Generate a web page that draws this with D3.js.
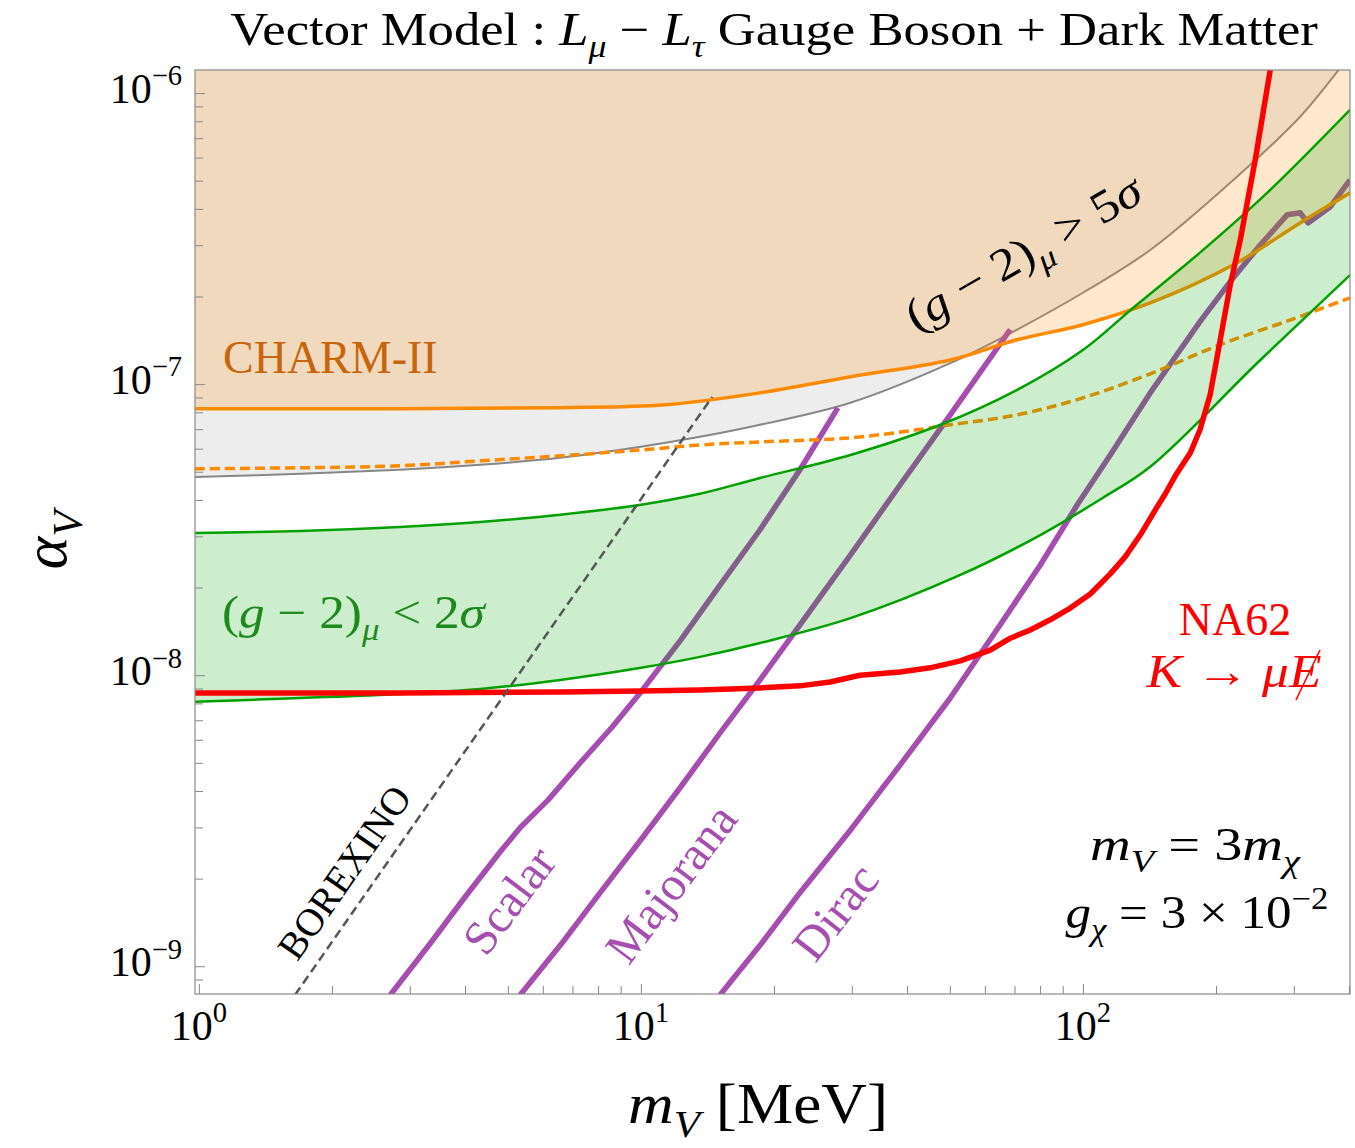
<!DOCTYPE html>
<html>
<head>
<meta charset="utf-8">
<script src="https://cdn.jsdelivr.net/npm/d3@7"></script>
<style>
  body { margin: 0; background: #fff; }
  text { font-family: "Liberation Serif", "DejaVu Serif", serif; }
</style>
</head>
<body>
<div id="chart"></div>
<script>
// ---------------------------------------------------------------------------
// Data: [m_V in MeV, alpha_V]
const charmII = [[0.98, 8.23e-8], [2.85, 8.23e-8], [6.57, 8.3e-8], [11.35, 8.49e-8], [18.6, 9.33e-8],
  [29.8, 1.06e-7], [50.1, 1.21e-7], [71, 1.42e-7], [100, 1.60e-7], [142, 1.90e-7], [219, 2.57e-7],
  [310, 3.58e-7], [402, 4.54e-7]];

const charmIIdashed = [[0.98, 5.12e-8], [1.70, 5.16e-8], [2.85, 5.24e-8], [4.33, 5.45e-8], [6.57, 5.67e-8],
  [10, 5.94e-8], [13.6, 6.18e-8], [18.6, 6.33e-8], [29.8, 6.54e-8], [42.2, 6.97e-8], [50.1, 7.25e-8],
  [71, 7.84e-8], [100, 8.97e-8], [142, 1.085e-7], [204, 1.365e-7], [294, 1.66e-7], [402, 1.98e-7]];

const gm2Excluded = [[0.98, 4.80e-8], [1.70, 4.92e-8], [2.85, 5.08e-8], [4.33, 5.28e-8], [6.57, 5.58e-8],
  [10, 6.09e-8], [13.6, 6.59e-8], [18.6, 7.25e-8], [29.8, 8.63e-8], [50.1, 1.18e-7], [71, 1.54e-7],
  [100, 2.06e-7], [142, 2.89e-7], [219, 5.03e-7], [310, 8.29e-7], [382, 1.22e-6], [402, 1.35e-6]];

const gm2Upper = [[0.98, 3.08e-8], [1.70, 3.13e-8], [2.85, 3.23e-8], [4.33, 3.36e-8], [6.57, 3.56e-8],
  [10, 3.85e-8], [13.6, 4.20e-8], [18.6, 4.76e-8], [29.8, 5.71e-8], [47.6, 7.25e-8], [71, 9.56e-8],
  [100, 1.31e-7], [130, 1.83e-7], [184, 2.83e-7], [261, 4.54e-7], [402, 8.76e-7]];

const gm2Lower = [[0.98, 8.10e-9], [1.70, 8.35e-9], [2.85, 8.62e-9], [4.33, 8.97e-9], [6.57, 9.63e-9],
  [10, 1.06e-8], [13.6, 1.156e-8], [18.6, 1.29e-8], [29.8, 1.57e-8], [52.8, 2.21e-8], [80.1, 3.03e-8],
  [111, 4.07e-8], [142, 5.20e-8], [252, 1.21e-7], [402, 2.37e-7]];

const na62 = [[0.98, 8.69e-9], [2.85, 8.69e-9], [6.57, 8.76e-9], [10, 8.83e-9], [13.6, 8.90e-9],
  [18.6, 9.04e-9], [22.9, 9.19e-9], [26.8, 9.48e-9], [31.3, 1.00e-8], [38.6, 1.026e-8], [45.1, 1.06e-8],
  [52.8, 1.12e-8], [61.7, 1.22e-8], [68.5, 1.34e-8], [76, 1.43e-8], [84.3, 1.55e-8], [93.6, 1.70e-8],
  [103.9, 1.90e-8], [115.3, 2.23e-8], [124.6, 2.55e-8], [134.8, 3.03e-8], [145.8, 3.70e-8],
  [153.6, 4.20e-8], [161.8, 4.84e-8], [175, 5.81e-8], [184, 6.97e-8], [194, 9.19e-8], [204.5, 1.42e-7],
  [215.4, 2.19e-7], [227, 3.13e-7], [245.4, 5.90e-7], [265.3, 1.2e-6]];

const scalar = [[2.71, 7.97e-10], [3.34, 1.20e-9], [4.00, 1.73e-9], [4.80, 2.47e-9], [5.33, 2.99e-9],
  [6.17, 3.73e-9], [7.29, 5.00e-9], [8.61, 6.64e-9], [10, 8.76e-9], [12.3, 1.32e-8], [15.1, 2.04e-8],
  [18.6, 3.16e-8], [22.9, 5.08e-8], [27.9, 8.29e-8]];

const majorana = [[5.33, 7.97e-10], [6.57, 1.18e-9], [8.09, 1.79e-9], [10, 2.72e-9], [12.3, 4.13e-9],
  [15.1, 6.33e-9], [18.6, 9.63e-9], [22.9, 1.49e-8], [29.8, 2.59e-8], [38.6, 4.51e-8], [50.1, 7.84e-8],
  [68.5, 1.54e-7]];

const dirac = [[15.1, 7.97e-10], [18.6, 1.18e-9], [22.9, 1.79e-9], [29.8, 2.94e-9], [38.6, 4.92e-9],
  [50.1, 8.35e-9], [65, 1.49e-8], [80.1, 2.39e-8], [97.1, 3.85e-8], [115.3, 5.71e-8], [142, 9.33e-8],
  [160, 1.21e-7], [184, 1.64e-7], [215.4, 2.25e-7], [252, 3.01e-7], [290, 3.82e-7], [310, 3.88e-7],
  [323, 3.58e-7], [363, 4.07e-7], [402, 5.03e-7]];

const borexino = [[1.65, 7.97e-10], [14.5, 9.04e-8]];

// Tick values
const xMajor = [1, 10, 100],
      xMinor = [2, 3, 4, 5, 6, 7, 8, 9, 20, 30, 40, 50, 60, 70, 80, 90, 200, 300, 400];
const yMajor = [1e-9, 1e-8, 1e-7, 1e-6],
      yMinor = [9e-10, 2e-9, 3e-9, 4e-9, 5e-9, 6e-9, 7e-9, 8e-9, 9e-9, 2e-8, 3e-8, 4e-8, 5e-8, 6e-8,
                7e-8, 8e-8, 9e-8, 2e-7, 3e-7, 4e-7, 5e-7, 6e-7, 7e-7, 8e-7, 9e-7];

// ---------------------------------------------------------------------------
// Layout
const width = 1355,
      height = 1148;
const plotL = 195, plotR = 1350, plotT = 70, plotB = 994;

const x = d3.scaleLog()
    .domain([0.98, 402])
    .range([plotL, plotR]);

const y = d3.scaleLog()
    .domain([8.03e-10, 1.2e-6])
    .range([plotB, plotT]);

const purple = "#a64db0";

const svg = d3.select("#chart")
  .append("svg")
    .attr("width", width)
    .attr("height", height);

svg.append("clipPath")
    .attr("id", "plot-clip")
  .append("rect")
    .attr("x", plotL)
    .attr("y", plotT)
    .attr("width", plotR - plotL)
    .attr("height", plotB - plotT);

const plot = svg.append("g")
    .attr("clip-path", "url(#plot-clip)");

const smooth = d3.line()
    .x(d => x(d[0]))
    .y(d => y(d[1]))
    .curve(d3.curveCatmullRom.alpha(0.5));

const straight = d3.line()
    .x(d => x(d[0]))
    .y(d => y(d[1]));

// region above a curve, closed along the top of the frame
function above(data) {
  return smooth(data) + `L${plotR + 10},${plotT - 10}L${plotL - 10},${plotT - 10}Z`;
}

// band between two curves
function band(upper, lower) {
  const rev = lower.slice().reverse();
  return smooth(upper) + "L" + smooth(rev).slice(1) + "Z";
}

///////////////////////////////////////////////////////////////////////////////
// (g-2) > 5 sigma region and boundary
plot.append("path")
    .attr("d", above(gm2Excluded))
    .attr("fill", "#ededed");

plot.append("path")
    .attr("d", smooth(gm2Excluded))
    .attr("fill", "none")
    .attr("stroke", "#878787")
    .attr("stroke-width", 2);

// Relic density lines
[scalar, majorana, dirac].forEach(d => {
  plot.append("path")
      .attr("d", straight(d))
      .attr("fill", "none")
      .attr("stroke", purple)
      .attr("stroke-width", 5.5)
      .attr("stroke-linejoin", "round");
});

// CHARM-II region
plot.append("path")
    .attr("d", above(charmII))
    .attr("fill", "rgb(255,140,0)")
    .attr("fill-opacity", 0.2);

plot.append("path")
    .attr("d", smooth(charmII))
    .attr("fill", "none")
    .attr("stroke", "#ff8a00")
    .attr("stroke-width", 3.5);

plot.append("path")
    .attr("d", smooth(charmIIdashed))
    .attr("fill", "none")
    .attr("stroke", "#ff8a00")
    .attr("stroke-width", 3.5)
    .attr("stroke-dasharray", "10,5");

// (g-2) < 2 sigma band
plot.append("path")
    .attr("d", band(gm2Upper, gm2Lower))
    .attr("fill", "rgb(0,170,0)")
    .attr("fill-opacity", 0.2);

[gm2Upper, gm2Lower].forEach(d => {
  plot.append("path")
      .attr("d", smooth(d))
      .attr("fill", "none")
      .attr("stroke", "#00a000")
      .attr("stroke-width", 2.5);
});

// NA62
plot.append("path")
    .attr("d", straight(na62))
    .attr("fill", "none")
    .attr("stroke", "#ff0000")
    .attr("stroke-width", 5.5)
    .attr("stroke-linejoin", "round");

// BOREXINO
plot.append("path")
    .attr("d", straight(borexino))
    .attr("fill", "none")
    .attr("stroke", "#555")
    .attr("stroke-width", 2.5)
    .attr("stroke-dasharray", "9,5");

///////////////////////////////////////////////////////////////////////////////
// Axes (ticks inside the frame)
function tickAxis(axis, values, size, transform) {
  svg.append("g")
      .attr("transform", transform)
      .call(axis.tickValues(values).tickSize(-size).tickFormat(""))
      .call(g => g.select(".domain").remove())
      .call(g => g.selectAll("line").attr("stroke", "#888"));
}
tickAxis(d3.axisBottom(x), xMajor, 10, `translate(0,${plotB})`);
tickAxis(d3.axisBottom(x), xMinor, 8, `translate(0,${plotB})`);
tickAxis(d3.axisLeft(y), yMajor, 10, `translate(${plotL},0)`);
tickAxis(d3.axisLeft(y), yMinor, 8, `translate(${plotL},0)`);

svg.append("rect")
    .attr("x", plotL)
    .attr("y", plotT)
    .attr("width", plotR - plotL)
    .attr("height", plotB - plotT)
    .attr("fill", "none")
    .attr("stroke", "#8a8a8a")
    .attr("stroke-width", 1.2);

///////////////////////////////////////////////////////////////////////////////
// Rich text helper: parts are {t, i (italic), sub, sup}
function rich(sel, parts, size) {
  let shift = 0;
  parts.forEach(p => {
    const target = p.sub ? size * 0.25 : p.sup ? -size * 0.42 : 0;
    const ts = sel.append("tspan")
        .attr("dy", target - shift)
        .text(p.t);
    shift = target;
    if (p.sub || p.sup) ts.attr("font-size", size * 0.68);
    if (p.i) ts.attr("font-style", "italic");
  });
  return sel;
}

// opts: anchor, fill, rotate, w (stretch text horizontally to this width)
function label(px, py, parts, size, opts = {}) {
  const base = `translate(${px},${py})` + (opts.rotate ? ` rotate(${opts.rotate})` : "");
  const t = svg.append("text")
      .attr("transform", base)
      .attr("font-size", size)
      .attr("text-anchor", opts.anchor || "start")
      .attr("fill", opts.fill || "#000");
  rich(t, parts, size);
  if (opts.w) {
    const len = t.node().getComputedTextLength();
    if (len > 0) t.attr("transform", base + ` scale(${opts.w / len},1)`);
  }
  return t;
}

// Tick labels
xMajor.forEach((v, i) => {
  label(x(v), 1040, [{ t: "10" }, { t: String(i), sup: true }], 42, { anchor: "middle" });
});
yMajor.forEach((v, i) => {
  label(182, y(v) + 10, [{ t: "10" }, { t: "−" + (9 - i), sup: true }], 42, { anchor: "end" });
});

// Axis titles
label(758, 1123, [{ t: "m", i: true }, { t: "V", i: true, sub: true }, { t: " [MeV]" }], 56,
  { anchor: "middle", w: 260 });
label(66, 540, [{ t: "α", i: true }, { t: "V", i: true, sub: true }], 62,
  { anchor: "middle", rotate: -90 });

// Title
label(774, 45, [{ t: "Vector Model :  " }, { t: "L", i: true }, { t: "μ", i: true, sub: true },
  { t: " − " }, { t: "L", i: true }, { t: "τ", i: true, sub: true },
  { t: " Gauge Boson + Dark Matter" }], 46, { anchor: "middle", w: 1088 });

// Region labels
label(223, 373, [{ t: "CHARM-II" }], 46, { fill: "#c8640a" });
label(222, 628, [{ t: "(" }, { t: "g", i: true }, { t: " − 2)" }, { t: "μ", i: true, sub: true },
  { t: " < 2" }, { t: "σ", i: true }], 46, { fill: "#1e8a1e", w: 263 });
label(1031, 266, [{ t: "(" }, { t: "g", i: true }, { t: " − 2)" }, { t: "μ", i: true, sub: true },
  { t: " > 5" }, { t: "σ", i: true }], 46, { anchor: "middle", rotate: -30, w: 265 });

label(1235, 635, [{ t: "NA62" }], 46, { anchor: "middle", fill: "#ff0000" });
label(1234, 687, [{ t: "K", i: true }, { t: " → " }, { t: "μ", i: true }, { t: "E", i: true }], 46,
  { anchor: "middle", fill: "#ff0000", w: 175 });
svg.append("line")
    .attr("x1", 1296).attr("y1", 700)
    .attr("x2", 1320).attr("y2", 650)
    .attr("stroke", "#ff0000")
    .attr("stroke-width", 1.6);

label(1195, 860, [{ t: "m", i: true }, { t: "V", i: true, sub: true }, { t: " = 3" },
  { t: "m", i: true }, { t: "χ", i: true, sub: true }], 46, { anchor: "middle", w: 210 });
label(1197, 928, [{ t: "g", i: true }, { t: "χ", i: true, sub: true }, { t: " = 3 × 10" },
  { t: "−2", sup: true }], 46, { anchor: "middle", w: 263 });

// Curve labels
label(355, 880, [{ t: "BOREXINO" }], 39, { anchor: "middle", rotate: -55 });
label(522, 910, [{ t: "Scalar" }], 48, { anchor: "middle", rotate: -53, fill: purple });
label(684, 893, [{ t: "Majorana" }], 48, { anchor: "middle", rotate: -53, fill: purple });
label(848, 922, [{ t: "Dirac" }], 48, { anchor: "middle", rotate: -52, fill: purple });
</script>
</body>
</html>
